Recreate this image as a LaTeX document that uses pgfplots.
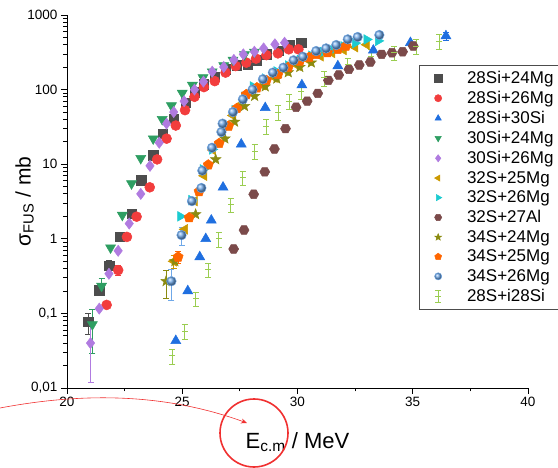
\documentclass[border=0pt]{standalone}
\usepackage{pgfplots}
\pgfplotsset{compat=1.18}
\usepackage{fontspec}
\setmainfont{Liberation Sans}
\usetikzlibrary{plotmarks,arrows.meta}

\definecolor{cgray}{HTML}{4D4D4D}
\definecolor{cred}{HTML}{F23D3D}
\definecolor{cblue}{HTML}{1F6FE0}
\definecolor{cgreen}{HTML}{2E9E62}
\definecolor{cpurple}{HTML}{B07BE0}
\definecolor{cgold}{HTML}{CC9900}
\definecolor{ccyan}{HTML}{1BCBD0}
\definecolor{cbrown}{HTML}{7B4A4A}
\definecolor{colive}{HTML}{8B8B10}
\definecolor{corange}{HTML}{FF6600}
\definecolor{csphere}{HTML}{6FA8E8}
\definecolor{clgreen}{HTML}{9ACD50}
\definecolor{cannot}{HTML}{F03030}

\pgfdeclareplotmark{hexagon*}{%
  \pgfpathmoveto{\pgfpointpolar{0}{\pgfplotmarksize}}%
  \pgfpathlineto{\pgfpointpolar{60}{\pgfplotmarksize}}%
  \pgfpathlineto{\pgfpointpolar{120}{\pgfplotmarksize}}%
  \pgfpathlineto{\pgfpointpolar{180}{\pgfplotmarksize}}%
  \pgfpathlineto{\pgfpointpolar{240}{\pgfplotmarksize}}%
  \pgfpathlineto{\pgfpointpolar{300}{\pgfplotmarksize}}%
  \pgfpathclose\pgfusepathqfillstroke}
\pgfdeclareplotmark{fstar}{%
  \pgfpathmoveto{\pgfpointpolar{90}{\pgfplotmarksize}}%
  \pgfpathlineto{\pgfpointpolar{126}{0.42\pgfplotmarksize}}%
  \pgfpathlineto{\pgfpointpolar{162}{\pgfplotmarksize}}%
  \pgfpathlineto{\pgfpointpolar{198}{0.42\pgfplotmarksize}}%
  \pgfpathlineto{\pgfpointpolar{234}{\pgfplotmarksize}}%
  \pgfpathlineto{\pgfpointpolar{270}{0.42\pgfplotmarksize}}%
  \pgfpathlineto{\pgfpointpolar{306}{\pgfplotmarksize}}%
  \pgfpathlineto{\pgfpointpolar{342}{0.42\pgfplotmarksize}}%
  \pgfpathlineto{\pgfpointpolar{18}{\pgfplotmarksize}}%
  \pgfpathlineto{\pgfpointpolar{54}{0.42\pgfplotmarksize}}%
  \pgfpathclose\pgfusepathqfillstroke}

\begin{document}
\begin{tikzpicture}[x=1pt,y=1pt]
\useasboundingbox (0,0) rectangle (558,467);
\begin{axis}[
  at={(67pt,79pt)}, anchor=south west, scale only axis,
  width=461pt, height=373pt,
  xmin=20, xmax=40, ymode=log, ymin=0.01, ymax=1000,
  axis lines*=left,
  axis line style={line width=0.9pt, black},
  xtick={20,25,30,35,40}, minor x tick num=1,
  ytick={0.01,0.1,1,10,100,1000},
  yticklabels={{0,01},{0,1},1,10,100,1000},
  tick align=outside,
  major tick length=6pt, minor tick length=3.5pt,
  every tick/.style={black, line width=0.8pt},
  /pgf/number format/assume math mode=true,
  tick label style={font=\fontsize{13.5}{14}\selectfont},
  xlabel={E\textsubscript{c.m} / MeV},
  ylabel={σ\textsubscript{FUS} / mb},
  xlabel style={font=\fontsize{22}{24}\selectfont, at={(axis description cs:0.5,-0.145)}, anchor=center},
  ylabel style={font=\fontsize{21}{24}\selectfont, at={(axis description cs:-0.092,0.5)}, anchor=center},
  legend style={at={(axis description cs:0.7636,0.866)}, anchor=north west,
    draw=black!70, line width=0.6pt, font=\fontsize{17}{18}\selectfont,
    row sep=2.2pt, column sep=23pt, inner xsep=15pt, inner ysep=4pt},
  legend cell align=left,
  legend image post style={mark size=3.6pt},
  every axis plot/.append style={only marks, line width=0.5pt},
  error bars/error bar style={line width=0.6pt},
  error bars/error mark options={rotate=90, mark size=3pt, line width=0.6pt},
]
% 28Si+24Mg
\addplot[mark=square*, mark size=4.6pt, color=cgray, mark options={fill=cgray, draw=cgray},
  error bars/.cd, y dir=both, y explicit] coordinates {
(20.92,0.077) +- (0,0.024) (21.40,0.204) +- (0,0.03) (21.83,0.44) +- (0,0.08) (22.29,1.07) +- (0,0.15)
(22.81,2.17) (23.22,6.1) (23.74,13.2) (24.15,25.6) (24.63,41) (25.14,67) (25.55,92) (25.95,118)
(26.40,150) (26.90,187) (27.35,212) (27.85,218) (28.24,247) (28.67,297) (29.20,330) (29.68,396) (30.16,425)
};
\addlegendentry{28Si+24Mg}
% 28Si+26Mg
\addplot[mark=*, mark size=5pt, color=cred, mark options={fill=cred, draw=cred},
  error bars/.cd, y dir=both, y explicit] coordinates {
(21.72,0.13) (22.22,0.38) +- (0,0.06) (22.60,1.06) (23.02,1.98) (23.59,4.9) (23.91,11.6) (24.32,22)
(24.72,33) (25.12,53) (25.53,80) (25.94,108) (26.41,130) (26.88,169) (27.32,207) (27.78,230)
(28.20,260) (28.65,290) (29.15,306) (29.62,347) (30.04,347)
};
\addlegendentry{28Si+26Mg}
% 28Si+30Si
\addplot[mark=triangle*, mark size=5.8pt, color=cblue, mark options={fill=cblue, draw=cblue},
  error bars/.cd, y dir=both, y explicit] coordinates {
(24.72,0.043) (25.24,0.20) (25.76,0.57) (26.02,1.0) (26.26,1.77) (26.77,4.9) (27.56,18.5)
(28.60,57) (30.19,115) (31.75,207) (33.29,336) (34.90,425) (36.44,523) +- (0,60)
};
\addlegendentry{28Si+30Si}
% 30Si+24Mg
\addplot[mark=triangle*, mark size=5.8pt, color=cgreen, mark options={fill=cgreen, draw=cgreen, rotate=180},
  error bars/.cd, y dir=both, y explicit] coordinates {
(21.10,0.071) +- (0,0.042) (21.50,0.233) +- (0,0.06) (21.89,0.76) (22.40,2.08) (22.80,5.5) (23.20,12)
(23.74,22) (24.13,40) (24.53,61) (25.00,90) (25.44,115) (25.90,145) (26.30,174) (26.80,210)
(27.20,250) (27.70,295) (28.13,320)
};
\addlegendentry{30Si+24Mg}
% 30Si+26Mg
\addplot[mark=diamond*, mark size=5.6pt, color=cpurple, mark options={fill=cpurple, draw=cpurple},
  error bars/.cd, y dir=both, y explicit] coordinates {
(21.02,0.040) +- (0,0.028) (21.40,0.116) (21.82,0.34) (22.22,0.69) (22.70,1.6) (23.20,4.0) (23.60,9.5)
(24.00,19.4) (24.32,35) (24.63,50) (25.08,70) (25.53,100) (25.92,128) (26.30,174) (26.80,201)
(27.24,250) (27.65,297) (28.13,322) (28.53,357) (29.02,405) (29.44,425)
};
\addlegendentry{30Si+26Mg}
% 32S+25Mg
\addplot[mark=triangle*, mark size=5.6pt, color=cgold, mark options={fill=cgold, draw=cgold, rotate=90},
  error bars/.cd, y dir=both, y explicit] coordinates {
(24.63,0.5) +- (0,0.1) (25.11,1.34) (25.54,3.2) (25.95,7.0) (26.33,15.5) (26.75,28) (27.20,45)
(27.60,65) (28.05,88) (28.50,115) (29.00,145) (29.50,180) (30.00,210) (30.50,245) (31.00,280)
(31.50,310) (32.00,340) (32.50,370) (33.00,400)
};
\addlegendentry{32S+25Mg}
% 32S+26Mg
\addplot[mark=triangle*, mark size=5.6pt, color=ccyan, mark options={fill=ccyan, draw=ccyan, rotate=-90},
  error bars/.cd, y dir=both, y explicit] coordinates {
(24.92,2.0) (25.40,3.3) (25.90,8.5) (26.30,15.8) (26.80,30) (27.27,53) (27.70,80) (28.07,110)
(28.60,140) (29.10,175) (29.60,210) (30.10,250) (30.60,285) (31.10,320) (31.50,340) (32.00,380)
(32.50,420) (33.00,470) (33.50,450)
};
\addlegendentry{32S+26Mg}
% 32S+27Al
\addplot[mark=hexagon*, mark size=5pt, color=cbrown, mark options={fill=cbrown, draw=cbrown}] coordinates {
(27.23,0.73) (27.68,1.31) (28.10,3.95) (28.58,7.9) (29.00,16) (29.48,30) (29.94,58) (30.42,70)
(30.88,89) (31.34,133) (31.79,157) (32.23,187) (32.68,214) (33.16,234) (33.65,297) (34.10,312)
(34.56,322) (35.02,384)
};
\addlegendentry{32S+27Al}
% 34S+24Mg
\addplot[mark=fstar, mark size=5.5pt, color=colive, mark options={fill=colive, draw=colive},
  error bars/.cd, y dir=both, y explicit] coordinates {
(24.30,0.27) +- (0,0.11) (24.68,0.5) (25.58,2.13) (26.45,11.6) (26.85,22) (27.27,37) (27.70,60)
(28.14,82) (28.60,110) (29.10,140) (29.60,170) (30.10,200) (30.60,230)
};
\addlegendentry{34S+24Mg}
% 34S+25Mg
\addplot[mark=pentagon*, mark size=5.3pt, color=corange, mark options={fill=corange, draw=corange},
  error bars/.cd, y dir=both, y explicit] coordinates {
(24.82,0.57) +- (0,0.1) (25.30,1.92) (25.73,4.3) (26.13,9.8) (26.60,19) (27.01,32.5) (27.37,56)
(27.78,86) (28.24,106) (28.65,133) (29.15,160) (29.60,200) (30.10,242) (30.50,270) (30.81,297)
(31.30,313) (31.75,347) (32.10,384)
};
\addlegendentry{34S+25Mg}
% 34S+26Mg
\addplot[mark=ball, mark size=4.8pt, color=csphere, mark options={ball color=csphere},
  error bars/.cd, y dir=both, y explicit] coordinates {
(24.53,0.27) +- (0,0.12) (24.97,1.12) +- (0,0.3) (25.42,3.2) (25.83,4.8) (25.87,8.2) (26.29,16.6)
(26.70,27) (26.75,35) (27.20,50) (27.63,74) (28.05,100) (28.50,138) (28.93,169) (29.39,197)
(29.83,247) (30.23,276) (30.81,329) (31.24,357) (31.68,396) (32.18,472) (32.61,507) (33.55,540)
};
\addlegendentry{34S+26Mg}
% 28S+i28Si
\addplot[mark=-, mark size=3pt, color=clgreen, line width=0.8pt,
  legend image code/.code={%
    \draw[clgreen, line width=0.8pt] (0.3cm,-6pt) -- (0.3cm,6pt)
      (0.3cm-3pt,-6pt) -- (0.3cm+3pt,-6pt) (0.3cm-3pt,6pt) -- (0.3cm+3pt,6pt)
      (0.3cm-3pt,0pt) -- (0.3cm+3pt,0pt);},
  error bars/.cd, y dir=both, y fixed relative=0.22,
  error bar style={line width=0.8pt}] coordinates {
(24.57,0.027) (25.11,0.058) (25.58,0.159) (26.12,0.39) (26.59,1.0) (27.10,2.9) (27.62,6.6)
(28.14,15) (28.64,32.5) (29.15,50) (29.65,70) (30.16,96) (31.17,144) (32.18,218) (33.19,282)
(34.20,312) (35.16,384) (36.15,448)
};
\addlegendentry{28S+i28Si}
\end{axis}
\draw[cannot, line width=1.6pt] (254,34) circle (34);
\draw[cannot, line width=0.6pt, -{Stealth[length=6pt,width=5pt]}] (0,59) .. controls (90,76) and (170,72) .. (247,44);
\end{tikzpicture}
\end{document}
